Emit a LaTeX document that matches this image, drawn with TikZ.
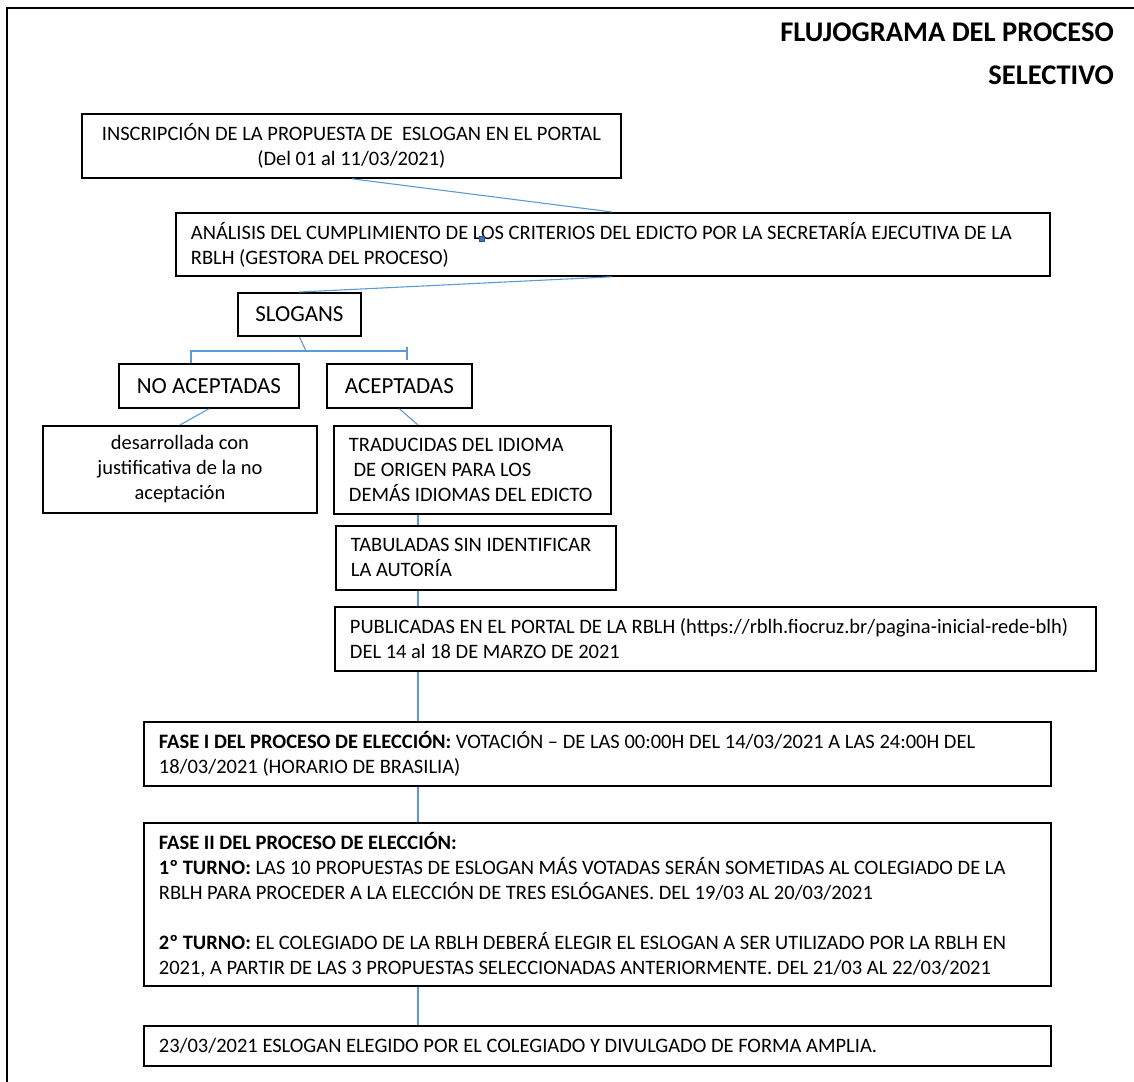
\documentclass[tikz,border=0pt]{standalone}
\usepackage{fontspec}
\setmainfont{Carlito}
\usepackage{tikz}
\definecolor{conector}{HTML}{5B9BD5}
\definecolor{ancla}{HTML}{4472C4}

\begin{document}
\begin{tikzpicture}[x=1pt, y=-1pt,
                    caja/.style={draw, line width=1.8pt, anchor=north west, inner ysep=0pt,
                                 font=\fontsize{20.5}{25}\selectfont},
                    izq/.style={caja, align=flush left, inner xsep=15pt},
                    centro/.style={caja, align=flush center, inner xsep=4pt},
                    rotulo/.style={centro, font=\fontsize{23}{28}\selectfont},
                    enlace/.style={draw=conector, line width=1.1pt}]
  \useasboundingbox (0,0) rectangle (1134,1081);
  \draw[line width=1.8pt] (1140,8) -- (7,8) -- (7,1090);

  \node[anchor=north east, inner sep=0pt, align=flush right,
        font=\fontsize{28.5}{43}\selectfont\bfseries] (titulo) at (1114,23)
    {FLUJOGRAMA DEL PROCESO\\SELECTIVO};

  \node[centro, text width=531pt, minimum height=64pt] (inscripcion) at (81,113)
    {INSCRIPCIÓN DE LA PROPUESTA DE\ \ ESLOGAN EN EL PORTAL\\(Del 01 al 11/03/2021)};
  \node[izq, text width=844pt, minimum height=63pt] (analisis) at (175,212)
    {ANÁLISIS DEL CUMPLIMIENTO DE LOS CRITERIOS DEL EDICTO POR LA SECRETARÍA EJECUTIVA DE LA\\
     RBLH (GESTORA DEL PROCESO)};
  \fill[ancla, draw=ancla!70!black, line width=0.4pt] (479,236) rectangle (484,241);
  \node[rotulo, text width=115pt, minimum height=43pt] (slogans) at (237,292) {SLOGANS};
  \node[rotulo, text width=172pt, minimum height=44pt] (noaceptadas) at (118,363) {NO ACEPTADAS};
  \node[rotulo, text width=137pt, minimum height=44pt] (aceptadas) at (326,363) {ACEPTADAS};
  \node[centro, text width=266pt, minimum height=87pt] (justificativa) at (42,425)
    {desarrollada con\\justificativa de la no\\aceptación};
  \node[izq, text width=247pt, minimum height=88pt] (traducidas) at (333,425)
    {TRADUCIDAS DEL IDIOMA\\\hspace*{0.23em}DE ORIGEN PARA LOS\\DEMÁS IDIOMAS DEL EDICTO};
  \node[izq, text width=250pt, minimum height=64pt] (tabuladas) at (335,525)
    {TABULADAS SIN IDENTIFICAR\\LA AUTORÍA};
  \node[izq, text width=731pt, minimum height=64pt] (publicadas) at (334,606)
    {PUBLICADAS EN EL PORTAL DE LA RBLH (https://rblh.fiocruz.br/pagina-inicial-rede-blh)\\
     DEL 14 al 18 DE MARZO DE 2021};
  \node[izq, text width=877pt, minimum height=64pt] (fase1) at (143,721)
    {\textbf{FASE I DEL PROCESO DE ELECCIÓN:} VOTACIÓN – DE LAS 00:00H DEL 14/03/2021 A LAS 24:00H DEL\\
     18/03/2021 (HORARIO DE BRASILIA)};
  \node[izq, text width=877pt, minimum height=163pt] (fase2) at (143,822)
    {\textbf{FASE II DEL PROCESO DE ELECCIÓN:}\\
     \textbf{1º TURNO:} LAS 10 PROPUESTAS DE ESLOGAN MÁS VOTADAS SERÁN SOMETIDAS AL COLEGIADO DE LA\\
     RBLH PARA PROCEDER A LA ELECCIÓN DE TRES ESLÓGANES. DEL 19/03 AL 20/03/2021\\[25pt]
     \textbf{2º TURNO:} EL COLEGIADO DE LA RBLH DEBERÁ ELEGIR EL ESLOGAN A SER UTILIZADO POR LA RBLH EN\\
     2021, A PARTIR DE LAS 3 PROPUESTAS SELECCIONADAS ANTERIORMENTE. DEL 21/03 AL 22/03/2021};
  \node[izq, text width=877pt, minimum height=40pt] (final) at (143,1025)
    {23/03/2021 ESLOGAN ELEGIDO POR EL COLEGIADO Y DIVULGADO DE FORMA AMPLIA.};

  \coordinate (eje) at (418,0);
  \coordinate (bif) at (306,351);
  \coordinate (bifizq) at (191,351);
  \coordinate (bifder) at (407,351);

  \draw[enlace] ([xshift=271pt]inscripcion.south west) -- ([xshift=437pt]analisis.north west);
  \draw[enlace] ([xshift=437pt]analisis.south west) -- (slogans.north);
  \draw[enlace] (slogans.south) -- (bif);
  \draw[enlace] (bifizq |- noaceptadas.north) -- (bifizq) -- (bifder);
  \draw[enlace] ([yshift=4pt]bifder) -- ([yshift=-9pt]bifder);
  \draw[enlace] (noaceptadas.south) -- (justificativa.north);
  \draw[enlace] (aceptadas.south) -- (traducidas.north -| eje);
  \draw[enlace] (traducidas.south -| eje) -- (tabuladas.north -| eje);
  \draw[enlace] (tabuladas.south -| eje) -- (publicadas.north -| eje);
  \draw[enlace] (publicadas.south -| eje) -- (fase1.north -| eje);
  \draw[enlace] (fase1.south -| eje) -- (fase2.north -| eje);
  \draw[enlace] (fase2.south -| eje) -- (final.north -| eje);
\end{tikzpicture}
\end{document}
